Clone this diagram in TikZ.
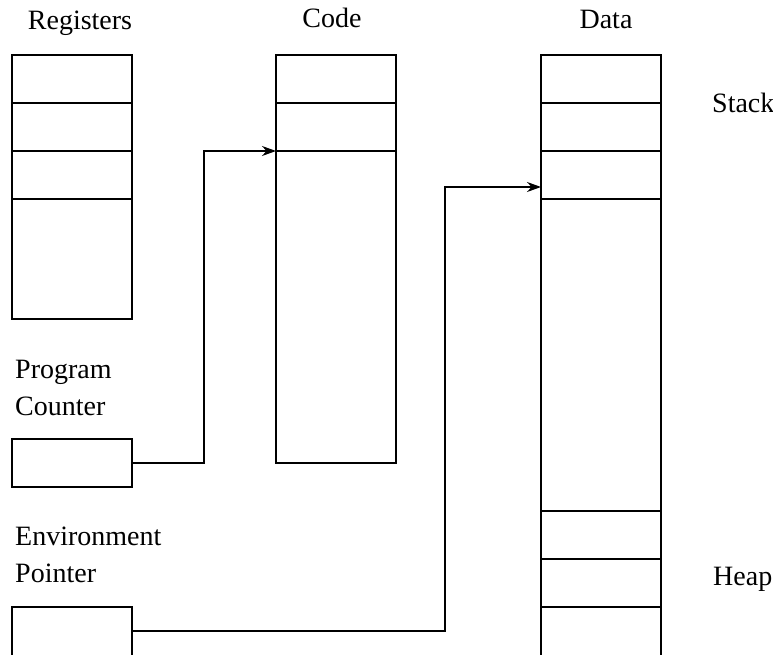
\documentclass[tikz,border=0pt]{standalone}
\usepackage{fontspec}
\setmainfont{Liberation Serif}
\usetikzlibrary{arrows.meta,calc,positioning}

\begin{document}
\begin{tikzpicture}[x=1pt,y=-1pt,
    cell/.style={draw,line width=1.6pt,minimum width=120pt,minimum height=#1,inner sep=0pt,outer sep=0pt},
    cell/.default=48pt,
    lbl/.style={font=\fontsize{28}{37}\selectfont,inner sep=0pt},
    link/.style={line width=1.6pt,-{Stealth[length=14pt,width=10pt]}}]
    \useasboundingbox (0,0) rectangle (773,655);
    \fill[white] (0,0) rectangle (773,655);
    % registers
    \node[cell] (regA) at (72,79) {};
    \node[cell,below=0pt of regA] (regB) {};
    \node[cell,below=0pt of regB] (regC) {};
    \node[cell=120pt,below=0pt of regC] (regD) {};
    \node[cell] (pc) at (72,463) {};
    \node[cell=60pt] (ep) at (72,637) {};
    % code
    \node[cell] (codeA) at (336,79) {};
    \node[cell,below=0pt of codeA] (codeB) {};
    \node[cell=312pt,below=0pt of codeB] (codeC) {};
    % data
    \node[cell] (dataA) at (601,79) {};
    \node[cell,below=0pt of dataA] (dataB) {};
    \node[cell,below=0pt of dataB] (dataC) {};
    \node[cell=312pt,below=0pt of dataC] (dataD) {};
    \node[cell,below=0pt of dataD] (dataE) {};
    \node[cell,below=0pt of dataE] (dataF) {};
    \node[cell=60pt,below=0pt of dataF] (dataG) {};
    % labels
    \node[lbl,anchor=base] (regtitle) at (80,30) {Registers};
    \node[lbl,anchor=base] (codetitle) at (332,28) {Code};
    \node[lbl,anchor=base] (datatitle) at (606,29) {Data};
    \node[lbl,anchor=base west,align=left] (pclabel) at (15,415) {Program\\Counter};
    \node[lbl,anchor=base west,align=left] (eplabel) at (15,582) {Environment\\Pointer};
    \node[lbl,anchor=base west] (stacklabel) at (712,113) {Stack};
    \node[lbl,anchor=base west] (heaplabel) at (713,585) {Heap};
    % pointers
    \coordinate (pcbend) at ($(pc.east)!0.5!(codeB.south west)$);
    \draw[link] (pc.east) -| (pcbend) |- (codeB.south west);
    \coordinate (epout) at ([yshift=-24pt]ep.north east);
    \coordinate (eptip) at ([yshift=-12pt]dataC.west);
    \coordinate (epbend) at ([xshift=-96pt]eptip);
    \draw[link] (epout) -| (epbend) |- (eptip);
\end{tikzpicture}
\end{document}
